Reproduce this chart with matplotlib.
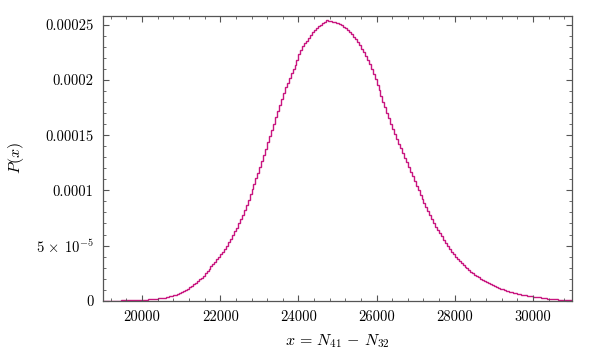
import numpy as np
import matplotlib
matplotlib.use("Agg")
import matplotlib.pyplot as plt
from matplotlib.ticker import FixedLocator, FixedFormatter, MultipleLocator

plt.rcParams['font.family'] = 'serif'
plt.rcParams['font.serif'] = ['cmr10']
plt.rcParams['mathtext.fontset'] = 'cm'
plt.rcParams['axes.unicode_minus'] = False

# histogram of x = N41 - N32, bin width 50, values in units of 1e-6
bin_lo = 19000
bin_hi = 31000
bin_w = 50
p_vals = [
    0.045, 0.055, 0.065, 0.075, 0.085, 0.10, 0.11, 0.13, 0.15, 0.175,
    0.205, 0.24, 0.28, 0.325, 0.375, 0.43, 0.49, 0.56, 0.64, 0.73,
    0.83, 0.94, 1.06, 1.19, 1.33, 1.48, 1.63, 1.8, 2.0, 2.23,
    2.48, 2.78, 3.13, 3.5, 3.9, 4.38, 4.93, 5.55, 6.25, 7.0,
    7.9, 8.8, 9.9, 11.0, 12.3, 13.6, 14.9, 16.3, 17.8, 19.3,
    21.0, 22.7, 24.7, 26.7, 28.8, 31.0, 33.1, 35.3, 37.4, 39.6,
    41.9, 44.4, 47.1, 50.0, 53.0, 56.1, 59.4, 62.8, 66.3, 70.0,
    74.0, 78.1, 82.4, 86.9, 91.6, 96.5, 101.4, 106.2, 111.1, 116.0,
    121.0, 126.4, 132.1, 137.9, 143.6, 149.3, 154.8, 160.4, 166.1, 171.8,
    177.3, 182.8, 188.3, 193.3, 197.8, 202.0, 206.0, 210.0, 214.0, 218.5,
    223.5, 227.5, 230.5, 233.3, 235.8, 238.3, 240.8, 243.3, 245.8, 247.6,
    248.9, 250.1, 251.4, 252.5, 254.5, 253.5, 254.0, 252.5, 253.0, 252.0,
    252.0, 250.9, 249.6, 248.3, 246.8, 245.1, 243.4, 241.4, 239.1, 236.8,
    234.3, 231.5, 228.5, 225.4, 222.1, 218.5, 214.5, 210.1, 205.4, 200.6,
    195.9, 190.9, 185.6, 180.5, 175.5, 170.5, 165.5, 160.5, 155.5, 150.9,
    146.6, 142.4, 138.1, 133.9, 129.6, 125.4, 121.1, 116.9, 112.6, 108.4,
    104.1, 100.0, 96.0, 92.1, 88.4, 84.6, 80.9, 77.3, 73.8, 70.4,
    67.1, 64.1, 61.4, 58.4, 55.1, 52.1, 49.4, 46.8, 44.3, 41.9,
    39.6, 37.6, 35.9, 34.1, 32.4, 30.8, 29.3, 27.8, 26.3, 24.9,
    23.6, 22.4, 21.1, 19.9, 18.6, 17.5, 16.5, 15.6, 14.7, 13.9,
    13.1, 12.3, 11.6, 10.9, 10.3, 9.7, 9.2, 8.6, 8.2, 7.7,
    7.2, 6.8, 6.4, 6.0, 5.6, 5.2, 4.9, 4.6, 4.25, 3.95,
    3.65, 3.4, 3.1, 2.9, 2.6, 2.4, 2.1, 1.9, 1.7, 1.5,
    1.38, 1.23, 1.1, 0.99, 0.9, 0.8, 0.74, 0.66, 0.6, 0.5,
]

yticks = [0, 0.00005, 0.0001, 0.00015, 0.0002, 0.00025]
ytick_labels = ['0', r'$5\,\times\,10^{-5}$', '0.0001', '0.00015', '0.0002', '0.00025']
xticks = [20000, 22000, 24000, 26000, 28000, 30000]

edges = np.arange(bin_lo, bin_hi + bin_w, bin_w)
vals = np.array(p_vals) * 1e-6

fig = plt.figure(figsize=(6, 3.5), dpi=100)
ax = fig.add_axes([0.1717, 0.1409, 0.7816, 0.8131])

ax.stairs(vals, edges, color='#c8157f', linewidth=1.0)

ax.set_xlim(bin_lo, bin_hi)
ax.set_ylim(0, 0.000258)

ax.xaxis.set_major_locator(FixedLocator(xticks))
ax.xaxis.set_minor_locator(MultipleLocator(400))
ax.yaxis.set_major_locator(FixedLocator(yticks))
ax.yaxis.set_major_formatter(FixedFormatter(ytick_labels))
ax.yaxis.set_minor_locator(MultipleLocator(0.00001))
ax.set_xticklabels([str(t) for t in xticks])

for s in ax.spines.values():
    s.set_color('#555555')
    s.set_linewidth(0.9)
ax.tick_params(which='both', direction='in', top=True, right=True,
               color='#555555', labelsize=10.5)
ax.tick_params(which='major', length=4, width=0.8, pad=7)
ax.tick_params(which='minor', length=2.5, width=0.6)

ax.set_xlabel(r'$x\,=\,N_{41}\,-\,N_{32}$', fontsize=11.5, labelpad=6)
ax.set_ylabel(r'$P(x)$', fontsize=11.5, labelpad=7)

fig.savefig('out.png', dpi=100)
